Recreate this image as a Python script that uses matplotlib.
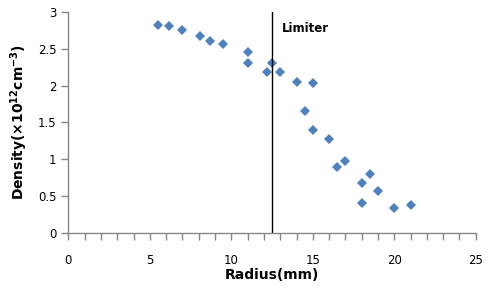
import matplotlib.pyplot as plt
from matplotlib.ticker import MultipleLocator

# data
radius = [5.5, 6.2, 7.0, 8.1, 8.7, 9.5, 11.0, 11.0, 12.5, 12.2, 13.0, 14.0,
          15.0, 14.5, 15.0, 16.0, 16.5, 17.0, 18.5, 18.0, 19.0, 18.0, 20.0, 21.0]
density = [2.82, 2.81, 2.76, 2.67, 2.61, 2.56, 2.45, 2.30, 2.31, 2.18, 2.18, 2.05,
           2.03, 1.66, 1.40, 1.27, 0.90, 0.98, 0.80, 0.68, 0.57, 0.40, 0.34, 0.38]
limiter_x = 12.5
x_ticks = [0, 5, 10, 15, 20, 25]
y_ticks = [0, 0.5, 1, 1.5, 2, 2.5, 3]

plt.rcParams['mathtext.default'] = 'bf'

fig = plt.figure(figsize=(4.92, 2.96), dpi=100)
ax = fig.add_axes([0.139, 0.213, 0.828, 0.747])

ax.plot(radius, density, 'D', color='#4F81BD', markersize=4.8, markeredgewidth=0)
ax.plot([limiter_x, limiter_x], [0, 3], color='black', linewidth=1)
ax.text(13.1, 2.78, 'Limiter', fontsize=8.5, fontweight='bold', ha='left', va='center')

ax.set_xlim(0, 25)
ax.set_ylim(0, 3)
ax.set_xticks(x_ticks)
ax.set_yticks(y_ticks)
ax.set_yticklabels(['0', '0.5', '1', '1.5', '2', '2.5', '3'])
ax.xaxis.set_minor_locator(MultipleLocator(1))

for s in ['top', 'right']:
    ax.spines[s].set_visible(False)
for s in ['left', 'bottom']:
    ax.spines[s].set_color('#868686')
    ax.spines[s].set_linewidth(1)
ax.tick_params(which='both', color='#868686', length=5, width=1, labelsize=8.5)
ax.tick_params(axis='x', pad=10)

ax.set_xlabel('Radius(mm)', fontsize=10, fontweight='bold', labelpad=1)
ax.set_ylabel('Density(×10$^{12}$cm$^{-3}$)', fontsize=10, fontweight='bold', labelpad=6)

plt.savefig('out.png', dpi=100)
